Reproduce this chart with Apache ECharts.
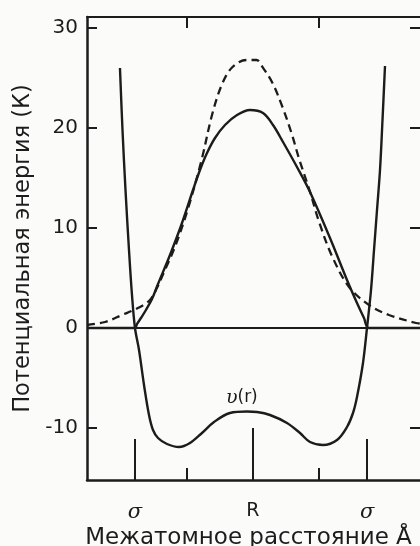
<!DOCTYPE html>
<html>
<head>
<meta charset="utf-8">
<script src="https://cdn.jsdelivr.net/npm/echarts@6/dist/echarts.min.js"></script>
<style>
html,body{margin:0;padding:0;background:#fbfbf9;}
#c{width:420px;height:546px;}
</style>
</head>
<body>
<div id="c"></div>
<script>
// ---- data (x: interatomic distance in arbitrary units 0..100, y: energy in K) ----
const yTicks = [-10, 0, 10, 20, 30];
const xMinorTicks = [30, 69.5];
const sigmaTicks = [14.4, 84.1];
const rTicks = [49.8];
const xTickLabels = { sigma: 'σ', r: 'R' };

// v(r) pair potential sum (solid)
const vrX = [9.9, 10.66, 11.56, 12.61, 13.51, 14.41, 15.62, 17.12, 18.62, 19.82, 21.32, 24.02, 27.63, 30.93, 34.53, 38.14, 42.94, 48.05, 51.05, 54.95, 60.06, 63.96, 66.97, 70.87, 75.08, 78.08, 79.88, 81.08, 82.88, 84.08, 85.29, 86.19, 87.09, 87.99, 88.74, 89.49];
const vrY = [26.0, 19.8, 13.8, 7.8, 3.3, 0.0, -2.2, -5.7, -8.7, -10.2, -11.0, -11.6, -11.9, -11.5, -10.5, -9.4, -8.5, -8.35, -8.4, -8.7, -9.5, -10.5, -11.4, -11.7, -11.2, -9.9, -8.5, -6.9, -3.5, 0.0, 3.8, 7.8, 11.8, 15.8, 20.8, 26.2];

// barrier (solid)
const barX = [0, 14.41, 15.02, 16.2, 17.7, 19.52, 21.32, 24.92, 28.53, 31.83, 33.93, 36.04, 38.44, 41.44, 45.05, 48.95, 52.85, 55.86, 58.86, 63.06, 66.97, 72.97, 78.08, 81.08, 83.18, 84.68, 100];
const barY = [0, 0, 0.4, 1.0, 1.8, 2.9, 4.4, 7.3, 10.5, 13.8, 15.8, 17.5, 19.0, 20.3, 21.3, 21.8, 21.5, 20.3, 18.6, 16.1, 13.6, 9.0, 4.8, 2.5, 1.0, 0, 0];

// barrier approximation (dashed)
const dashX = [0, 5.4, 10.5, 15.3, 18.9, 21.0, 23.4, 26.4, 30.2, 34.4, 37.7, 40.7, 43.7, 47.9, 50.9, 52.7, 55.7, 58.7, 61.4, 63.8, 66.8, 69.8, 73.7, 78.7, 84.7, 90.7, 98.8, 100];
const dashY = [0.3, 0.6, 1.3, 2.0, 2.8, 4.0, 5.8, 8.1, 11.8, 16.8, 21.5, 24.5, 26.1, 26.8, 26.8, 26.1, 24.5, 22.1, 19.5, 16.8, 13.8, 10.5, 7.1, 4.1, 2.3, 1.3, 0.5, 0.45];

const curveLabel = ['υ', '(r)'];
const curveLabelAt = [46.5, -7.0];

const pairs = (xs, ys) => xs.map((x, i) => [x, ys[i]]);

const INK = '#1c1c1c';
const FONT = 'DejaVu Sans';

const chart = echarts.init(document.getElementById('c'), null, { renderer: 'canvas' });

const baseX = {
  type: 'value', min: 0, max: 100, gridIndex: 0,
  splitLine: { show: false },
  axisLine: { show: false, onZero: false }
};

chart.setOption({
  backgroundColor: '#fbfbf9',
  animation: false,
  grid: { left: 87, right: 0, top: 17, bottom: 66, containLabel: false, outerBoundsMode: 'none' },
  xAxis: [
    Object.assign({}, baseX, {
      position: 'bottom',
      axisLine: { show: true, onZero: false, lineStyle: { color: INK, width: 2.5 } },
      axisTick: { show: true, inside: true, length: 12, customValues: xMinorTicks, lineStyle: { color: INK, width: 2 } },
      axisLabel: { show: false },
      name: 'Межатомное расстояние Å',
      nameLocation: 'middle',
      nameGap: 47,
      nameTextStyle: { color: INK, fontFamily: FONT, fontSize: 23, padding: [0, 10, 0, 0] }
    }),
    Object.assign({}, baseX, {
      position: 'bottom',
      axisTick: { show: true, inside: true, length: 41, customValues: sigmaTicks, lineStyle: { color: INK, width: 2 } },
      axisLabel: {
        show: true, customValues: sigmaTicks, margin: 22,
        formatter: () => xTickLabels.sigma,
        color: INK, fontFamily: 'DejaVu Serif', fontStyle: 'italic', fontSize: 21
      }
    }),
    Object.assign({}, baseX, {
      position: 'bottom',
      axisTick: { show: true, inside: true, length: 52, customValues: rTicks, lineStyle: { color: INK, width: 2 } },
      axisLabel: {
        show: true, customValues: rTicks, margin: 22,
        formatter: () => xTickLabels.r,
        color: INK, fontFamily: FONT, fontSize: 19
      }
    }),
    Object.assign({}, baseX, {
      position: 'top',
      axisLine: { show: true, onZero: false, lineStyle: { color: INK, width: 2 } },
      axisTick: { show: true, inside: true, length: 11, customValues: xMinorTicks, lineStyle: { color: INK, width: 2 } },
      axisLabel: { show: false }
    })
  ],
  yAxis: [
    {
      type: 'value', min: -15.2, max: 31.1, position: 'left',
      splitLine: { show: false },
      axisLine: { show: true, onZero: false, lineStyle: { color: INK, width: 2.5 } },
      axisTick: { show: true, inside: true, length: 10, customValues: yTicks, lineStyle: { color: INK, width: 2 } },
      axisLabel: { show: true, customValues: yTicks, margin: 9, color: INK, fontFamily: FONT, fontSize: 20 },
      name: 'Потенциальная энергия (К)',
      nameLocation: 'middle',
      nameGap: 46,
      nameTextStyle: { color: INK, fontFamily: FONT, fontSize: 22.5 }
    },
    {
      type: 'value', min: -15.2, max: 31.1, position: 'right',
      splitLine: { show: false },
      axisLine: { show: false, onZero: false },
      axisTick: { show: true, inside: true, length: 10, customValues: yTicks, lineStyle: { color: INK, width: 2 } },
      axisLabel: { show: false }
    }
  ],
  series: [
    {
      name: 'barrier', type: 'line', xAxisIndex: 0, yAxisIndex: 0,
      data: pairs(barX, barY), showSymbol: false, smooth: 0.35,
      lineStyle: { color: INK, width: 2.4 },
      markLine: {
        silent: true, symbol: ['none', 'none'], label: { show: false },
        lineStyle: { color: INK, width: 1.8, type: 'solid' },
        data: [{ yAxis: 0 }]
      }
    },
    {
      name: 'approx', type: 'line', xAxisIndex: 0, yAxisIndex: 0,
      data: pairs(dashX, dashY), showSymbol: false, smooth: 0.35,
      lineStyle: { color: INK, width: 2.3, type: [8, 5] }
    },
    {
      name: 'v(r)', type: 'line', xAxisIndex: 0, yAxisIndex: 0,
      data: pairs(vrX, vrY), showSymbol: false, smooth: 0.35,
      lineStyle: { color: INK, width: 2.4 },
      markPoint: {
        silent: true, symbol: 'circle', symbolSize: 0,
        data: [{ coord: curveLabelAt }],
        label: {
          show: true, position: 'inside',
          formatter: () => '{u|' + curveLabel[0] + '}{p|' + curveLabel[1] + '}',
          rich: {
            u: { fontFamily: 'DejaVu Serif', fontStyle: 'italic', fontSize: 19, color: INK },
            p: { fontFamily: FONT, fontSize: 17, color: INK }
          }
        }
      }
    }
  ]
});
</script>
</body>
</html>
